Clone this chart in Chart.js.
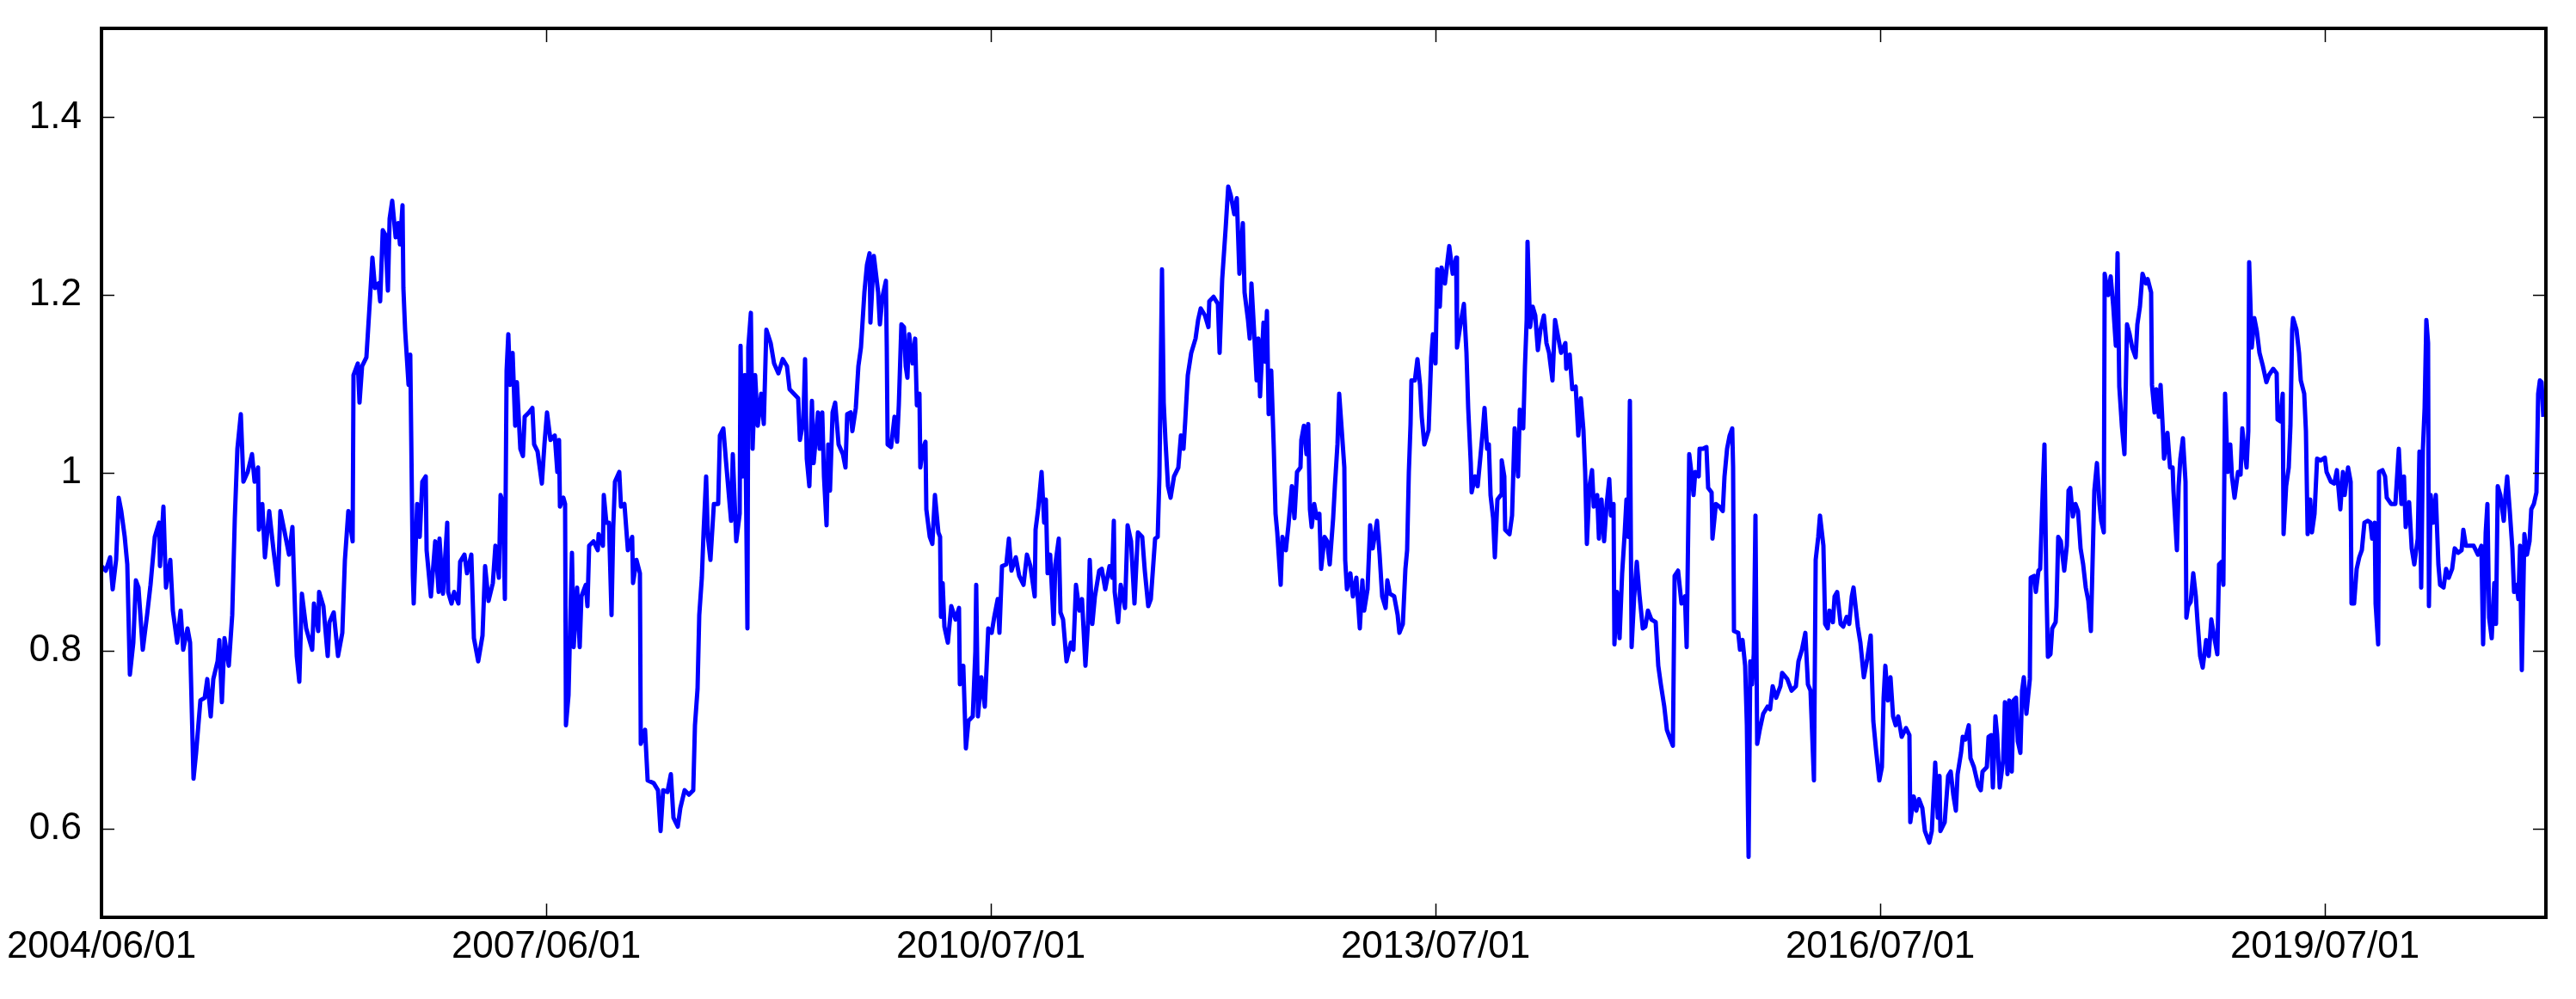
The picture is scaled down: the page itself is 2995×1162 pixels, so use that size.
<!DOCTYPE html>
<html>
<head>
<meta charset="utf-8">
<script src="https://cdn.jsdelivr.net/npm/chart.js@4.4.1/dist/chart.umd.min.js"></script>
<style>
  html, body { margin: 0; padding: 0; background: #fff; }
  #wrap { width: 2995px; height: 1162px; }
</style>
</head>
<body>
<div id="wrap"><canvas id="ratioChart"></canvas></div>
<script>
// posicion (indice de muestra) de cada punto
const dayIdx = [
  0,5,10,13,17,20,23,27,30,33,37,40,43,48,53,57,62,67,68,72,75,80,83,88,92,95,100,103,107,110,
  115,120,123,127,130,135,137,140,143,148,152,155,158,162,165,170,175,178,182,183,187,190,195,200,205,208,213,218,222,225,
  227,230,233,238,245,247,252,253,258,263,265,270,275,280,283,287,292,293,298,300,303,308,312,315,318,322,324,327,330,333,
  335,338,342,345,347,350,351,353,357,359,362,363,367,370,373,377,378,383,388,392,393,397,402,403,407,410,415,417,422,425,
  430,433,438,443,446,450,
  455,458,462,464,467,469,471,473,475,478,481,483,487,490,492,497,501,503,507,512,515,518,522,527,530,532,533,537,539,540,
  543,545,547,549,553,556,558,563,565,567,572,577,578,583,584,587,590,593,595,597,602,604,608,612,617,618,622,626,627,632,
  635,642,647,650,653,658,662,665,670,673,678,683,688,690,693,695,698,700,703,705,708,712,717,719,723,726,732,734,738,742,
  743,745,748,751,752,755,757,760,763,767,770,773,778,782,787,792,797,800,805,810,812,816,818,820,823,826,828,833,835,838,
  840,843,845,847,850,853,857,862,865,867,871,873,877,880,883,887,890,893,894,898,903,905,908,912,913,914,918,922,925,927,
  930,
  933,935,937,939,943,946,948,951,952,955,958,959,963,966,969,973,975,976,978,980,984,988,993,997,998,1002,1005,1008,1013,1016,
  1017,1019,1023,1027,1029,1031,1035,1038,1042,1044,1047,1052,1055,1058,1063,1067,1072,1076,1080,1085,
  1086,1089,1093,1096,1098,1100,1103,1107,1109,1113,1115,1118,1122,1127,1130,1133,1137,1140,1144,1147,
  1149,1152,1155,1160,1163,1167,1172,1175,1177,1178,1182,1185,1190,1193,1197,1201,1205,1210,1213,1217,
  1220,1225,1228,1230,1233,1235,1237,1240,1243,1247,1252,1255,1258,1260,1263,1267,1272,1275,1278,1283,
  1287,1288,1293,1298,1300,1303,1307,1310,1313,1317,1320,1323,1327,1329,1333,1335,1337,1340,1343,1345,
  1347,1351,1353,1355,1357,1360,1363,1365,1367,1371,1373,1377,1380,1384,1387,1390,1394,1395,1398,1401,
  1403,1405,1407,1410,
  1413,1416,1418,1422,1425,1428,1432,1434,1437,1439,1442,1445,1446,1448,1452,1455,1459,1463,1466,1468,
  1472,1475,1478,1483,1486,1489,1493,1495,1498,1503,1507,1509,1513,1516,1518,1520,1522,1523,1527,1530,
  1533,1535,1538,1543,1546,1548,1551,1553,1556,1558,1562,1565,1567,1571,1575,1576,1580,1584,1587,1589,
  1592,1593,1597,1600,1603,1606,1608,1611,1613,1615,1618,1620,1623,1627,1628,1631,1632,1637,1640,1643,
  1647,1649,1653,1655,1657,1658,1661,1664,1667,1670,1673,1677,1680,1683,1687,1690,1693,1697,1702,1703,
  1707,1710,1714,1717,1720,1723,1725,1727,1730,1733,1735,1739,1741,1744,1747,1750,1753,1755,1758,1759,
  1762,1765,1768,1771,1773,1775,1777,1779,1782,1785,1788,1792,1795,1798,1802,1807,1810,1813,1817,1820,
  1823,1827,1829,1833,1837,1841,1843,1846,1849,1851,1853,1857,1858,1862,1866,1868,1872,1873,1877,1881,
  1885,1887,1890,
  1893,1896,1897,1898,1903,1905,1908,1911,1913,1915,1917,1919,1921,1923,1925,1928,1932,1937,1940,1943,
  1947,1952,1954,1960,1965,1970,1973,1977,1981,1984,1987,1991,1993,1996,1998,2002,2004,2007,2009,2013,
  2015,2018,2022,2025,2029,2032,2035,2037,2042,2045,2049,2053,2057,2060,2063,2067,2070,2072,2074,2077,
  2080,2083,2086,2089,2093,2098,2102,2103,2107,2110,2113,2117,2120,2125,2128,2132,2135,2137,2138,2143,
  2147,2150,2153,2156,2158,2162,2164,2167,2171,2173,2177,2182,2185,2187,2192,2194,2197,2199,2202,2204,
  2207,2211,2213,2216,2218,2221,2223,2226,2228,2231,2233,2235,2238,2242,2243,2247,2249,2252,2254,2257,
  2259,2261,2263,2266,2268,2272,2273,2275,2278,2282,2285,2287,2289,2292,2295,2298,2301,2304,2307,2310,
  2313,2315,2317,2320,2323,2325,2328,2329,2333,2336,2339,2342,2344,2346,2349,2352,2355,2358,2361,2365,
  2367,2370,
  2373,2377,2379,2383,2384,2387,2389,2392,2394,2397,2398,2402,2405,2408,2409,2413,2415,2417,2420,2423,
  2424,2426,2429,2432,2435,2437,2440,2443,2447,2450,2453,2457,2460,2462,2465,2467,2469,2472,2475,2477,
  2480,2484,2487,2489,2492,2494,2496,2497,2500,2503,2506,2509,2513,2517,2520,2525,2529,2530,2533,2536,
  2537,2540,2543,2545,2547,2548,2552,2555,2557,2561,2563,2565,2568,2570,2573,2576,2580,2585,2587,2592,
  2596,2599,2603,2606,2608,2612,2615,2616,2619,2622,2625,2628,2631,2635,2638,2640,2643,2644,2647,2648,
  2652,2655,2657,2662,2667,2669,2671,2674,2677,2679,2683,2686,2689,2693,2695,2697,2699,2701,2703,2705,
  2706,2708,2711,2714,2717,2719,2723,2726,2729,2733,2736,2740,2744,2746,2749,2753,2758,2763,2767,2769,
  2772,2774,2776,2779,2782,2784,2786,2789,2793,2795,2797,2800,2803,2805,2808,2810,2812,2814,2817,2820,
  2823,2825,2828,2831,2833,2835,2837,2839
];

// valor del ratio en cada punto
const ratio = [
  0.895,0.89,0.905,0.869,0.902,0.972,0.957,0.928,0.897,0.773,0.809,0.879,0.871,0.801,0.84,0.874,0.928,0.944,0.895,0.962,
  0.871,0.902,0.845,0.809,0.845,0.801,0.825,0.809,0.656,0.685,0.744,0.747,0.768,0.726,0.768,0.788,0.812,0.742,0.814,0.783,
  0.84,0.949,1.027,1.066,0.99,1.001,1.021,0.99,1.006,0.936,0.965,0.905,0.957,0.913,0.874,0.957,0.933,0.908,0.939,0.845,
  0.794,0.765,0.864,0.825,0.801,0.853,0.822,0.866,0.85,0.794,0.832,0.843,0.794,0.82,0.902,0.957,0.923,1.11,1.123,1.079,
  1.12,1.13,1.193,1.242,1.208,1.213,1.193,1.273,1.268,1.205,1.286,1.306,1.265,1.281,1.257,1.301,1.208,1.161,1.099,1.133,
  0.884,0.853,0.965,0.928,0.99,0.996,0.913,0.861,0.923,0.866,0.926,0.864,0.944,0.866,0.853,0.866,0.853,0.9,0.908,0.887,
  0.908,0.814,0.788,0.817,0.895,0.856,
  0.876,0.918,0.882,0.975,0.965,0.858,1.115,1.156,1.099,1.135,1.053,1.102,1.027,1.019,1.063,1.068,1.073,1.032,1.024,0.988,
  1.032,1.068,1.037,1.042,1.001,1.037,0.962,0.972,0.965,0.716,0.75,0.832,0.91,0.804,0.871,0.804,0.861,0.874,0.85,0.918,
  0.923,0.913,0.931,0.918,0.975,0.944,0.944,0.84,0.939,0.99,1.001,0.962,0.965,0.913,0.928,0.876,0.902,0.887,0.695,0.711,
  0.654,0.651,0.643,0.597,0.643,0.641,0.661,0.612,0.602,0.623,0.643,0.638,0.643,0.716,0.757,0.84,0.882,0.933,0.996,0.928,
  0.902,0.965,0.965,1.042,1.05,1.014,0.946,1.021,0.923,0.954,1.143,0.996,1.11,0.825,1.141,1.18,1.027,1.11,1.053,1.089,
  1.055,1.161,1.146,1.123,1.112,1.128,1.12,1.094,1.089,1.084,1.037,1.058,1.128,1.016,0.985,1.081,1.011,1.068,1.027,1.068,
  0.996,0.941,1.032,0.98,1.068,1.079,1.032,1.021,1.006,1.066,1.068,1.047,1.073,1.12,1.141,1.203,1.234,1.247,1.169,1.244,
  1.203,1.167,1.198,1.216,1.141,1.032,1.029,1.063,1.035,1.076,
  1.167,
  1.164,1.12,1.107,1.156,1.123,1.151,1.076,1.089,1.006,1.027,1.035,0.959,0.928,0.92,0.975,0.933,0.928,0.838,0.876,0.827,
  0.809,0.85,0.835,0.848,0.762,0.783,0.69,0.721,0.726,0.799,0.874,0.726,0.77,0.737,0.78,0.825,0.82,0.838,0.858,0.82,
  0.895,0.897,0.926,0.89,0.905,0.884,0.874,0.908,0.895,0.861,0.936,0.959,1.001,0.944,0.97,0.887,0.908,0.83,0.897,0.926,
  0.843,0.835,0.788,0.809,0.801,0.874,0.845,0.858,0.783,0.832,0.902,0.83,0.861,0.89,0.892,0.869,0.895,0.882,0.946,0.866,
  0.832,0.874,0.848,0.941,0.923,0.853,0.933,0.928,0.89,0.85,0.858,0.926,0.928,0.996,1.229,1.079,1.037,0.985,0.972,0.996,
  1.006,1.042,1.027,1.058,1.11,1.135,1.151,1.172,1.185,1.177,1.164,1.193,1.198,1.19,1.135,1.218,1.275,1.322,1.312,1.291,
  1.309,1.224,1.281,1.203,1.172,1.151,1.213,1.161,1.104,1.151,1.086,1.169,1.125,1.182,1.066,1.115,1.027,0.954,0.933,0.874,
  0.928,0.913,0.941,0.985,0.949,1.001,1.006,1.037,1.053,1.021,1.055,0.959,0.939,0.965,
  0.949,0.954,0.892,0.928,0.923,0.897,0.949,0.985,1.032,1.089,1.048,1.006,0.902,0.869,0.887,0.861,0.882,0.825,0.879,0.845,
  0.869,0.941,0.915,0.946,0.908,0.861,0.848,0.879,0.864,0.861,0.84,0.82,0.83,0.892,0.913,1.001,1.055,1.104,1.104,1.128,
  1.099,1.063,1.032,1.048,1.13,1.156,1.123,1.229,1.187,1.231,1.213,1.239,1.255,1.224,1.242,1.141,1.167,1.19,1.135,1.073,
  1.011,0.978,0.996,0.985,1.016,1.048,1.073,1.027,1.032,0.975,0.949,0.905,0.97,0.975,1.014,0.996,0.936,0.931,0.952,1.05,
  0.996,1.071,1.05,1.12,1.172,1.26,1.164,1.187,1.177,1.138,1.161,1.177,1.146,1.135,1.104,1.172,1.156,1.135,1.146,1.117,
  1.133,1.094,1.097,1.042,1.084,1.048,1.001,0.92,0.985,1.003,0.962,0.975,0.926,0.97,0.923,0.965,0.993,0.952,0.965,0.807,
  0.866,0.814,0.887,0.933,0.97,0.928,1.081,0.804,0.861,0.9,0.864,0.825,0.827,0.845,0.835,0.832,0.783,0.762,0.737,0.711,
  0.703,0.693,0.884,0.89,0.853,0.861,0.804,1.021,0.996,0.975,1.001,0.996,1.027,1.027,1.029,0.983,0.978,0.926,0.965,0.962,
  0.957,0.996,1.027,
  1.042,1.05,1.006,0.822,0.82,0.801,0.812,0.783,0.716,0.568,0.788,0.762,0.796,0.952,0.695,0.711,0.729,0.737,0.734,0.76,
  0.747,0.76,0.775,0.768,0.755,0.76,0.788,0.801,0.82,0.762,0.755,0.654,0.902,0.928,0.952,0.918,0.83,0.825,0.845,0.832,
  0.861,0.866,0.83,0.827,0.838,0.83,0.861,0.871,0.827,0.809,0.77,0.791,0.817,0.721,0.69,0.654,0.669,0.747,0.783,0.744,
  0.77,0.726,0.716,0.726,0.703,0.713,0.705,0.607,0.636,0.62,0.633,0.623,0.597,0.584,0.597,0.674,0.612,0.659,0.597,0.607,
  0.659,0.664,0.638,0.62,0.661,0.685,0.703,0.7,0.716,0.679,0.669,0.648,0.643,0.664,0.669,0.703,0.705,0.646,0.726,0.705,
  0.646,0.677,0.742,0.661,0.744,0.664,0.744,0.747,0.698,0.685,0.755,0.77,0.729,0.768,0.882,0.884,0.866,0.89,0.892,0.98,
  1.032,0.887,0.793,0.796,0.825,0.832,0.85,0.928,0.923,0.89,0.918,0.98,0.983,0.951,0.965,0.957,0.915,0.897,0.871,0.856,
  0.822,0.902,0.98,1.011,0.965,0.946,0.933,1.224,1.2,1.221,1.187,1.143,1.247,1.097,1.053,1.021,1.167,1.156,1.141,1.13,
  1.167,1.187,
  1.224,1.213,1.218,1.203,1.099,1.068,1.094,1.063,1.099,1.042,1.016,1.045,1.006,1.006,0.98,0.913,0.985,1.016,1.039,0.99,
  0.837,0.85,0.855,0.887,0.861,0.832,0.794,0.781,0.812,0.794,0.835,0.812,0.796,0.897,0.9,0.874,1.089,1.001,1.032,0.996,
  0.972,1.001,0.998,1.05,1.021,1.006,1.047,1.237,1.141,1.174,1.159,1.135,1.12,1.102,1.11,1.117,1.112,1.06,1.058,1.089,
  0.931,0.985,1.006,1.053,1.161,1.174,1.161,1.135,1.104,1.089,1.047,0.931,0.97,0.933,0.954,1.016,1.014,1.017,1.001,0.99,
  0.988,1.003,0.959,1.001,0.975,1.006,0.99,0.853,0.853,0.892,0.905,0.913,0.944,0.946,0.944,0.926,0.944,0.853,0.807,1.001,
  1.003,0.996,0.972,0.965,0.965,0.996,1.027,0.965,0.996,0.939,0.967,0.915,0.897,0.926,1.024,0.871,1.027,1.073,1.172,1.146,
  0.85,0.975,0.944,0.975,0.897,0.874,0.871,0.892,0.882,0.892,0.915,0.91,0.913,0.936,0.918,0.918,0.918,0.908,0.918,0.807,
  0.933,0.965,0.837,0.814,0.876,0.83,0.985,0.975,0.946,0.975,0.996,0.957,0.915,0.866,0.874,0.858,0.918,0.778,0.931,0.908,
  0.923,0.959,0.965,0.978,1.089,1.104,1.102,1.063
];

// etiquetas del eje x y su posicion
const xTickIdx = [0, 517, 1034, 1551, 2068, 2585];
const xTickLabels = ['2004/06/01', '2007/06/01', '2010/07/01', '2013/07/01', '2016/07/01', '2019/07/01'];
const xMax = 2842;

// eje y
const yTicks = [0.6, 0.8, 1, 1.2, 1.4];
const yMin = 0.5, yMax = 1.5;

if (dayIdx.length !== ratio.length) console.error('longitudes distintas', dayIdx.length, ratio.length);

const points = dayIdx.map((d, i) => ({ x: d, y: ratio[i] }));

const tickFont = { family: '"Liberation Sans", Arial, sans-serif', size: 44 };

// marco negro y marcas de tick hacia dentro (como en el original)
const frameTicks = {
  id: 'frameTicks',
  afterDatasetsDraw(chart) {
    const { ctx, chartArea: a, scales: { x, y } } = chart;
    ctx.save();
    ctx.strokeStyle = '#000';
    ctx.lineWidth = 1.5;
    ctx.beginPath();
    y.ticks.forEach(t => {
      const py = Math.round(y.getPixelForValue(t.value)) + 0.5;
      ctx.moveTo(a.left, py); ctx.lineTo(a.left + 15, py);
      ctx.moveTo(a.right, py); ctx.lineTo(a.right - 15, py);
    });
    x.ticks.forEach(t => {
      const px = Math.round(x.getPixelForValue(t.value)) + 0.5;
      ctx.moveTo(px, a.bottom); ctx.lineTo(px, a.bottom - 16);
      ctx.moveTo(px, a.top); ctx.lineTo(px, a.top + 16);
    });
    ctx.stroke();
    ctx.lineWidth = 4;
    ctx.strokeRect(a.left, a.top, a.right - a.left, a.bottom - a.top);
    ctx.restore();
  }
};

new Chart(document.getElementById('ratioChart'), {
  type: 'line',
  data: {
    datasets: [{
      data: points,
      borderColor: '#0000ff',
      borderWidth: 5,
      pointRadius: 0,
      tension: 0,
      fill: false,
      borderJoinStyle: 'round'
    }]
  },
  options: {
    responsive: true,
    maintainAspectRatio: false,
    animation: false,
    devicePixelRatio: 1,
    parsing: false,
    layout: { padding: { top: 33, right: 35, left: 0, bottom: 0 } },
    plugins: { legend: { display: false }, tooltip: { enabled: false } },
    scales: {
      x: {
        type: 'linear',
        min: 0,
        max: xMax,
        grid: { display: false, drawTicks: false },
        border: { display: false },
        ticks: {
          font: tickFont,
          color: '#000',
          padding: 8,
          maxRotation: 0,
          autoSkip: false,
          callback: v => xTickLabels[xTickIdx.indexOf(v)] ?? ''
        },
        afterBuildTicks: s => { s.ticks = xTickIdx.map(v => ({ value: v })); },
        afterFit: s => { s.height = 95; s.paddingLeft = 0; s.paddingRight = 0; }
      },
      y: {
        min: yMin,
        max: yMax,
        grid: { display: false, drawTicks: false },
        border: { display: false },
        ticks: {
          font: tickFont,
          color: '#000',
          padding: 23,
          callback: v => String(v)
        },
        afterBuildTicks: s => { s.ticks = yTicks.map(v => ({ value: v })); },
        afterFit: s => { s.width = 118; s.paddingTop = 0; s.paddingBottom = 0; }
      }
    }
  },
  plugins: [frameTicks]
});
</script>
</body>
</html>
